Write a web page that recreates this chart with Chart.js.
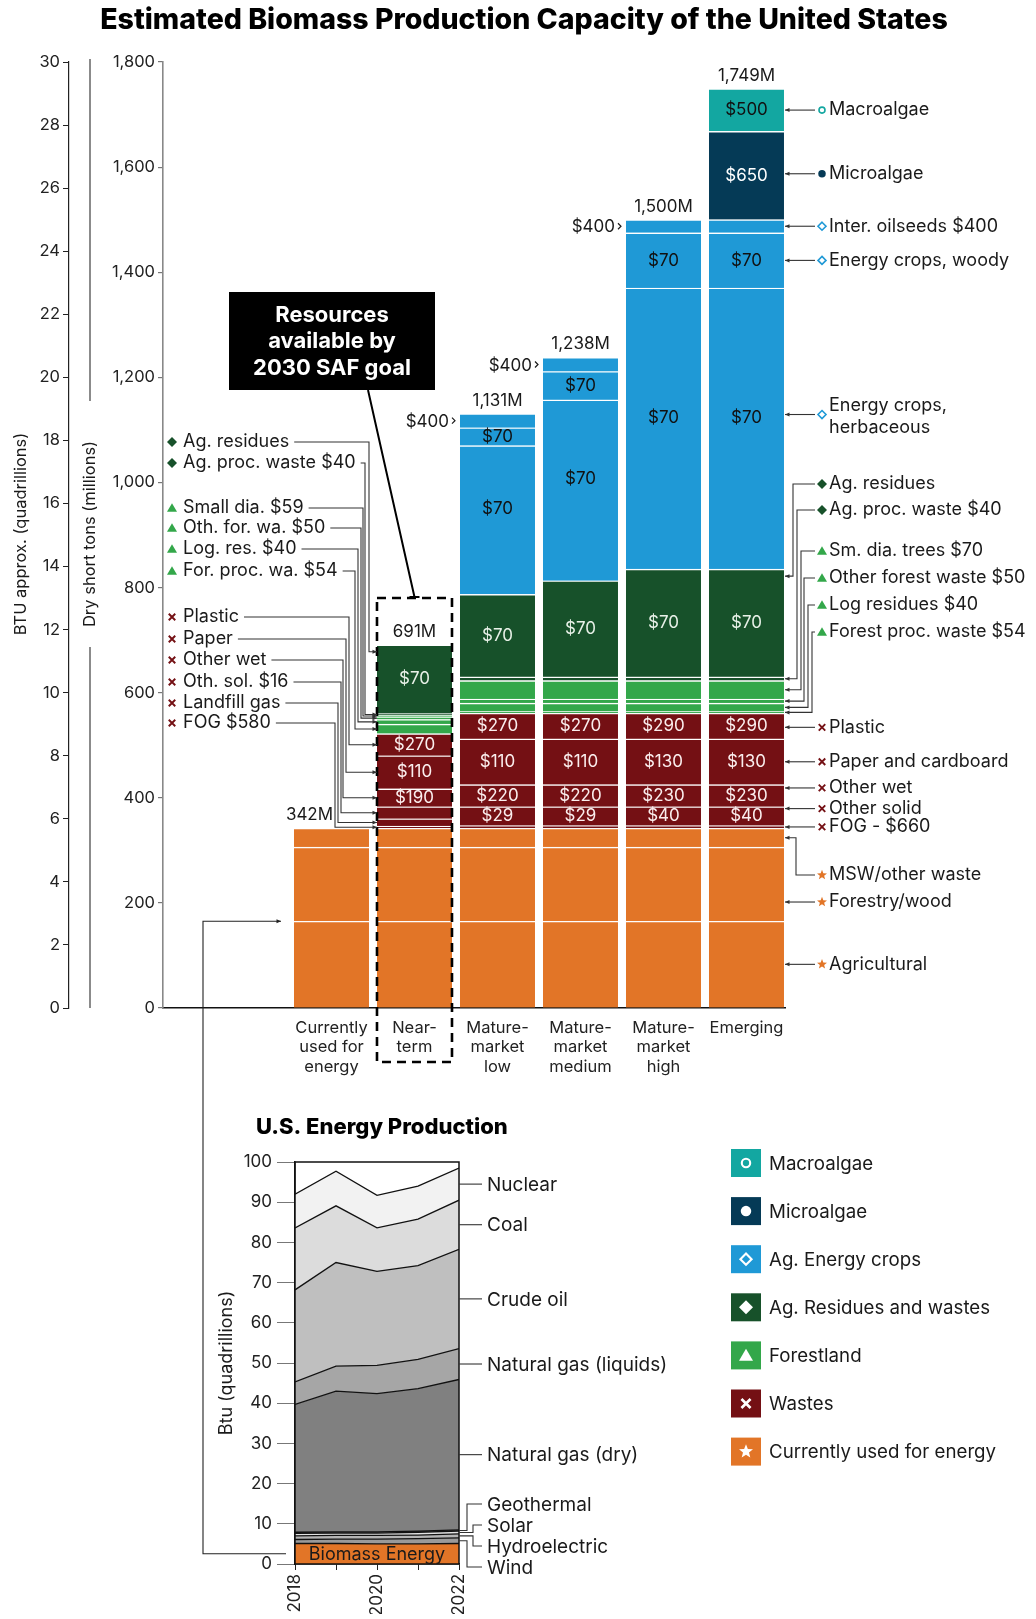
<!DOCTYPE html>
<html><head><meta charset="utf-8">
<script src="https://cdn.jsdelivr.net/npm/chart.js@4.4.1/dist/chart.umd.min.js"></script>
<style>
html,body{margin:0;padding:0;background:#fff;}
#wrap{position:relative;width:1036px;height:1619px;overflow:hidden;}
#wrap canvas{position:absolute;left:0;top:0;}
</style></head>
<body><div id="wrap"><canvas id="main" width="1036" height="1619"></canvas><canvas id="energy" width="1036" height="1619"></canvas></div>
<script>
// ---------------- DATA (main chart, dry short tons, millions) ----------------
const categories = [['Currently','used for','energy'], ['Near-','term'], ['Mature-','market','low'], ['Mature-','market','medium'], ['Mature-','market','high'], ['Emerging']];
const totalLabels = ['342M', '691M', '1,131M', '1,238M', '1,500M', '1,749M'];
const oilseedSideLabels = ['', '', '$400', '$400', '$400', ''];

const agricultural     = [165, 165, 165, 165, 165, 165];
const forestryWood     = [141, 141, 141, 141, 141, 141];
const mswOtherWaste    = [36, 36, 36, 36, 36, 36];
const fog              = [0, 4, 5, 5, 5, 5];
const landfillGas      = [0, 14, 0, 0, 0, 0];
const otherSolid       = [0, 23, 36, 36, 36, 36];
const otherWet         = [0, 34, 42, 42, 42, 42];
const paperCardboard   = [0, 63, 87, 87, 87, 87];
const plastic          = [0, 42, 49, 49, 49, 49];
const forestProcWaste  = [0, 18, 3, 3, 3, 3];
const logResidues      = [0, 9, 16, 16, 16, 16];
const otherForestWaste = [0, 5, 8, 8, 8, 8];
const smallDiaTrees    = [0, 3, 35, 35, 35, 35];
const agProcWaste      = [0, 3, 7, 7, 7, 7];
const agResidues       = [0, 131, 157, 183, 205, 205];
const herbaceous       = [0, 0, 283, 344, 535, 535];
const woody            = [0, 0, 34, 54, 105, 105];
const oilseeds         = [0, 0, 27, 27, 25, 25];
const microalgae       = [0, 0, 0, 0, 0, 168];
const macroalgae       = [0, 0, 0, 0, 0, 81];

// price labels shown inside segments
const pricePlastic    = ['', '$270', '$270', '$270', '$290', '$290'];
const pricePaper      = ['', '$110', '$110', '$110', '$130', '$130'];
const priceOtherWet   = ['', '$190', '$220', '$220', '$230', '$230'];
const priceOtherSolid = ['', '', '$29', '$29', '$40', '$40'];
const priceAgResidues = ['', '$70', '$70', '$70', '$70', '$70'];
const priceHerbaceous = ['', '', '$70', '$70', '$70', '$70'];
const priceWoody      = ['', '', '$70', '$70', '$70', '$70'];
const priceMicroalgae = ['', '', '', '', '', '$650'];
const priceMacroalgae = ['', '', '', '', '', '$500'];

// ---------------- DATA (U.S. energy production, quadrillion Btu) ----------------
const years       = [2018, 2019, 2020, 2021, 2022];
const biomass     = [5.1, 5.1, 5.0, 5.0, 5.1];
const wind        = [1.0, 1.1, 1.2, 1.3, 1.4];
const hydro       = [0.9, 0.9, 0.9, 0.9, 1.0];
const solar       = [0.6, 0.6, 0.6, 0.7, 0.7];
const geothermal  = [0.3, 0.3, 0.3, 0.3, 0.3];
const gasDry      = [31.8, 35.0, 34.4, 35.4, 37.4];
const gasLiquids  = [5.6, 6.2, 7.0, 7.3, 7.7];
const crudeOil    = [22.9, 25.8, 23.4, 23.3, 24.7];
const coal        = [15.4, 14.1, 10.8, 11.6, 12.2];
const nuclear     = [8.4, 8.6, 8.1, 8.2, 8.0];

// ---------------- STYLE ----------------
const FONT = 'Inter, "Open Sans", sans-serif';
const ORANGE = '#E27527', RED = '#741014', GREEN = '#33A74A', DKGREEN = '#17512A',
      BLUE = '#1F99D6', NAVY = '#053A56', TEAL = '#13A7A1', INK = '#1a1a1a', LINE = '#333';
Chart.defaults.font.family = FONT;
Chart.defaults.color = INK;

const seriesDefs = [
  {name: 'Agricultural', data: agricultural, color: ORANGE, mk: 'star'},
  {name: 'Forestry/wood', data: forestryWood, color: ORANGE, mk: 'star'},
  {name: 'MSW/other waste', data: mswOtherWaste, color: ORANGE, mk: 'star'},
  {name: 'FOG', data: fog, color: RED, mk: 'cross'},
  {name: 'Landfill gas', data: landfillGas, color: RED, mk: 'cross'},
  {name: 'Other solid', data: otherSolid, color: RED, mk: 'cross', price: priceOtherSolid, pc: '#fbeeee'},
  {name: 'Other wet', data: otherWet, color: RED, mk: 'cross', price: priceOtherWet, pc: '#fbeeee'},
  {name: 'Paper and cardboard', data: paperCardboard, color: RED, mk: 'cross', price: pricePaper, pc: '#fbeeee'},
  {name: 'Plastic', data: plastic, color: RED, mk: 'cross', price: pricePlastic, pc: '#fbeeee'},
  {name: 'Forest proc. waste', data: forestProcWaste, color: GREEN, mk: 'triangle'},
  {name: 'Log residues', data: logResidues, color: GREEN, mk: 'triangle'},
  {name: 'Other forest waste', data: otherForestWaste, color: GREEN, mk: 'triangle'},
  {name: 'Sm. dia. trees', data: smallDiaTrees, color: GREEN, mk: 'triangle'},
  {name: 'Ag. proc. waste', data: agProcWaste, color: DKGREEN, mk: 'diamond'},
  {name: 'Ag. residues', data: agResidues, color: DKGREEN, mk: 'diamond', price: priceAgResidues, pc: '#e8f1e8'},
  {name: 'Energy crops, herbaceous', data: herbaceous, color: BLUE, mk: 'diamondHollow', price: priceHerbaceous, pc: '#111', dy: -11},
  {name: 'Energy crops, woody', data: woody, color: BLUE, mk: 'diamondHollow', price: priceWoody, pc: '#111'},
  {name: 'Inter. oilseeds', data: oilseeds, color: BLUE, mk: 'diamondHollow'},
  {name: 'Microalgae', data: microalgae, color: NAVY, mk: 'circle', price: priceMicroalgae, pc: '#fff'},
  {name: 'Macroalgae', data: macroalgae, color: TEAL, mk: 'circleHollow', price: priceMacroalgae, pc: '#111'},
];
const IDX = {};
seriesDefs.forEach((s, i) => IDX[s.name] = i);

// ---------------- drawing helpers ----------------
function marker(ctx, type, x, y, color, s) {
  ctx.save();
  ctx.fillStyle = color; ctx.strokeStyle = color; ctx.lineJoin = 'miter';
  ctx.beginPath();
  if (type === 'diamond') {
    ctx.moveTo(x, y - s); ctx.lineTo(x + s, y); ctx.lineTo(x, y + s); ctx.lineTo(x - s, y); ctx.closePath(); ctx.fill();
  } else if (type === 'diamondHollow') {
    const r = s * 0.8; ctx.lineWidth = Math.max(1.6, s * 0.3);
    ctx.moveTo(x, y - r); ctx.lineTo(x + r, y); ctx.lineTo(x, y + r); ctx.lineTo(x - r, y); ctx.closePath(); ctx.stroke();
  } else if (type === 'triangle') {
    ctx.moveTo(x, y - s * 0.95); ctx.lineTo(x + s, y + s * 0.75); ctx.lineTo(x - s, y + s * 0.75); ctx.closePath(); ctx.fill();
  } else if (type === 'cross') {
    const r = s * 0.65; ctx.lineWidth = Math.max(1.8, s * 0.38); ctx.lineCap = 'butt';
    ctx.moveTo(x - r, y - r); ctx.lineTo(x + r, y + r); ctx.moveTo(x + r, y - r); ctx.lineTo(x - r, y + r); ctx.stroke();
  } else if (type === 'star') {
    for (let k = 0; k < 10; k++) {
      const r = k % 2 ? s * 0.45 : s * 1.05;
      const a = -Math.PI / 2 + k * Math.PI / 5;
      ctx.lineTo(x + r * Math.cos(a), y + r * Math.sin(a));
    }
    ctx.closePath(); ctx.fill();
  } else if (type === 'circle') {
    ctx.arc(x, y, s * 0.75, 0, Math.PI * 2); ctx.fill();
  } else if (type === 'circleHollow') {
    ctx.lineWidth = Math.max(1.6, s * 0.3); ctx.arc(x, y, s * 0.6, 0, Math.PI * 2); ctx.stroke();
  }
  ctx.restore();
}
function leader(ctx, pts, color) {
  ctx.save();
  ctx.strokeStyle = color || LINE; ctx.fillStyle = color || LINE; ctx.lineWidth = 1.1;
  ctx.beginPath(); ctx.moveTo(pts[0][0], pts[0][1]);
  for (let i = 1; i < pts.length; i++) ctx.lineTo(pts[i][0], pts[i][1]);
  ctx.stroke();
  const [x1, y1] = pts[pts.length - 2], [x2, y2] = pts[pts.length - 1];
  const a = Math.atan2(y2 - y1, x2 - x1), L = 4.5, W = 2;
  ctx.beginPath(); ctx.moveTo(x2, y2);
  ctx.lineTo(x2 - L * Math.cos(a) + W * Math.sin(a), y2 - L * Math.sin(a) - W * Math.cos(a));
  ctx.lineTo(x2 - L * Math.cos(a) - W * Math.sin(a), y2 - L * Math.sin(a) + W * Math.cos(a));
  ctx.closePath(); ctx.fill();
  ctx.restore();
}
function segY(chart, ds, j, frac) {
  const el = chart.getDatasetMeta(ds).data[j];
  return el.base + (el.y - el.base) * frac;
}

// annotation layouts (positions of text only; targets come from the data)
const leftNotes = [
  {text: 'Ag. residues', ds: 'Ag. residues', frac: 0.9, ty: 442, vx: 369},
  {text: 'Ag. proc. waste $40', ds: 'Ag. proc. waste', frac: 0.5, ty: 463, vx: 365},
  {text: 'Small dia. $59', ds: 'Sm. dia. trees', frac: 0.5, ty: 508, vx: 363},
  {text: 'Oth. for. wa. $50', ds: 'Other forest waste', frac: 0.5, ty: 528, vx: 361},
  {text: 'Log. res. $40', ds: 'Log residues', frac: 0.5, ty: 549, vx: 358},
  {text: 'For. proc. wa. $54', ds: 'Forest proc. waste', frac: 0.5, ty: 571, vx: 355},
  {text: 'Plastic', ds: 'Plastic', frac: 0.5, ty: 617, vx: 349},
  {text: 'Paper', ds: 'Paper and cardboard', frac: 0.5, ty: 639, vx: 346},
  {text: 'Other wet', ds: 'Other wet', frac: 0.5, ty: 660, vx: 343},
  {text: 'Oth. sol. $16', ds: 'Other solid', frac: 0.5, ty: 682, vx: 341},
  {text: 'Landfill gas', ds: 'Landfill gas', frac: 0.5, ty: 703, vx: 338},
  {text: 'FOG $580', ds: 'FOG', frac: 0.5, ty: 723, vx: 335},
];
const rightNotes = [
  {text: ['Macroalgae'], ds: 'Macroalgae', frac: 0.5},
  {text: ['Microalgae'], ds: 'Microalgae', frac: 0.52},
  {text: ['Inter. oilseeds $400'], ds: 'Inter. oilseeds', frac: 0.5},
  {text: ['Energy crops, woody'], ds: 'Energy crops, woody', frac: 0.5},
  {text: ['Energy crops,', 'herbaceous'], ds: 'Energy crops, herbaceous', frac: 0.55},
  {text: ['Ag. residues'], ds: 'Ag. residues', frac: 0.935, ty: 484, vx: 793},
  {text: ['Ag. proc. waste $40'], ds: 'Ag. proc. waste', frac: 0.5, ty: 510, vx: 797},
  {text: ['Sm. dia. trees $70'], ds: 'Sm. dia. trees', frac: 0.5, ty: 551, vx: 801},
  {text: ['Other forest waste $50'], ds: 'Other forest waste', frac: 0.5, ty: 578, vx: 804},
  {text: ['Log residues $40'], ds: 'Log residues', frac: 0.5, ty: 605, vx: 808},
  {text: ['Forest proc. waste $54'], ds: 'Forest proc. waste', frac: 0.5, ty: 632, vx: 812},
  {text: ['Plastic'], ds: 'Plastic', frac: 0.45},
  {text: ['Paper and cardboard'], ds: 'Paper and cardboard', frac: 0.5},
  {text: ['Other wet'], ds: 'Other wet', frac: 0.85},
  {text: ['Other solid'], ds: 'Other solid', frac: 0.9},
  {text: ['FOG - $660'], ds: 'FOG', frac: 0.5},
  {text: ['MSW/other waste'], ds: 'MSW/other waste', frac: 0.5, ty: 875, vx: 796},
  {text: ['Forestry/wood'], ds: 'Forestry/wood', frac: 0.26},
  {text: ['Agricultural'], ds: 'Agricultural', frac: 0.5},
];
const legendItems = [
  ['Macroalgae', TEAL, 'circleHollow'], ['Microalgae', NAVY, 'circle'], ['Ag. Energy crops', BLUE, 'diamondHollow'],
  ['Ag. Residues and wastes', DKGREEN, 'diamond'], ['Forestland', GREEN, 'triangle'], ['Wastes', RED, 'cross'],
  ['Currently used for energy', ORANGE, 'star'],
];

const mainDecor = {
  id: 'mainDecor',
  afterDraw(chart) {
    const ctx = chart.ctx, ys = chart.scales.y, ca = chart.chartArea;
    const last = categories.length - 1;
    ctx.save();
    // title
    ctx.fillStyle = '#000'; ctx.textAlign = 'center'; ctx.textBaseline = 'middle';
    ctx.font = '800 28.5px ' + FONT;
    ctx.fillText('Estimated Biomass Production Capacity of the United States', 524, 20);

    // axis titles
    ctx.font = '16.5px ' + FONT; ctx.fillStyle = INK;
    ctx.save(); ctx.translate(21, 534); ctx.rotate(-Math.PI / 2); ctx.fillText('BTU approx. (quadrillions)', 0, 0); ctx.restore();
    ctx.save(); ctx.translate(90, 534); ctx.rotate(-Math.PI / 2); ctx.fillText('Dry short tons (millions)', 0, 0); ctx.restore();
    ctx.strokeStyle = '#666'; ctx.lineWidth = 1.5;
    ctx.beginPath(); ctx.moveTo(90, ca.top - 3); ctx.lineTo(90, 401); ctx.moveTo(90, 647); ctx.lineTo(90, ca.bottom); ctx.stroke();

    // price labels in segments
    ctx.font = '17px ' + FONT; ctx.textAlign = 'center'; ctx.textBaseline = 'middle';
    seriesDefs.forEach((s, i) => {
      if (!s.price) return;
      const meta = chart.getDatasetMeta(i);
      s.price.forEach((p, j) => {
        if (!p) return;
        const el = meta.data[j];
        ctx.fillStyle = s.pc;
        ctx.fillText(p, el.x, (el.y + el.base) / 2 + (s.dy || 0));
      });
    });

    // totals above bars
    ctx.font = '17px ' + FONT; ctx.fillStyle = INK;
    totalLabels.forEach((t, j) => {
      const total = seriesDefs.reduce((a, s) => a + s.data[j], 0);
      const x = chart.getDatasetMeta(0).data[j].x + (j === 0 ? -22 : 0);
      ctx.fillText(t, x, ys.getPixelForValue(total) - 13);
    });

    // $400 side labels
    ctx.textAlign = 'right';
    oilseedSideLabels.forEach((t, j) => {
      if (!t) return;
      const el = chart.getDatasetMeta(IDX['Inter. oilseeds']).data[j];
      const left = el.x - el.width / 2;
      const y = (el.y + el.base) / 2 + 1;
      ctx.fillStyle = INK;
      ctx.fillText(t, left - 11, y);
      ctx.strokeStyle = INK; ctx.lineWidth = 1.2;
      ctx.beginPath(); ctx.moveTo(left - 8, y - 4); ctx.lineTo(left - 5, y - 1); ctx.lineTo(left - 8, y + 2); ctx.stroke();
    });

    // near-term box + callout
    const nt = chart.getDatasetMeta(0).data[1];
    const ntL = nt.x - nt.width / 2, ntR = nt.x + nt.width / 2;
    ctx.save();
    ctx.strokeStyle = '#000'; ctx.lineWidth = 2.6; ctx.setLineDash([9, 6]);
    ctx.strokeRect(ntL, 598, ntR - ntL, 1062 - 598);
    ctx.restore();
    ctx.fillStyle = '#000'; ctx.fillRect(229, 292, 206, 98);
    ctx.strokeStyle = '#000'; ctx.lineWidth = 2;
    ctx.beginPath(); ctx.moveTo(368, 390); ctx.lineTo(nt.x, 597); ctx.moveTo(nt.x - 5, 597); ctx.lineTo(nt.x + 5, 597); ctx.stroke();
    ctx.fillStyle = '#fff'; ctx.font = '700 22px ' + FONT; ctx.textAlign = 'center';
    ['Resources', 'available by', '2030 SAF goal'].forEach((t, k) => ctx.fillText(t, 332, 315 + k * 26.5));

    // left notes (near-term bar)
    ctx.font = '18px ' + FONT; ctx.textAlign = 'left'; ctx.textBaseline = 'middle';
    leftNotes.forEach(n => {
      const s = seriesDefs[IDX[n.ds]];
      marker(ctx, s.mk, 172, n.ty, s.color, 5);
      ctx.fillStyle = INK; ctx.fillText(n.text, 183, n.ty);
      const w = ctx.measureText(n.text).width;
      const ty2 = segY(chart, IDX[n.ds], 1, n.frac);
      leader(ctx, [[183 + w + 5, n.ty], [n.vx, n.ty], [n.vx, ty2], [ntL, ty2]]);
    });

    // right notes (emerging bar)
    const em = chart.getDatasetMeta(0).data[last];
    const emR = em.x + em.width / 2;
    rightNotes.forEach(n => {
      const s = seriesDefs[IDX[n.ds]];
      const tgt = segY(chart, IDX[n.ds], last, n.frac);
      const ty = n.ty != null ? n.ty : tgt;
      marker(ctx, s.mk, 822, ty, s.color, 5);
      ctx.fillStyle = INK;
      if (n.text.length === 1) ctx.fillText(n.text[0], 829, ty);
      else { ctx.fillText(n.text[0], 829, ty - 9); ctx.fillText(n.text[1], 829, ty + 13); }
      if (n.vx) leader(ctx, [[815, ty], [n.vx, ty], [n.vx, tgt], [emR + 1, tgt]]);
      else leader(ctx, [[815, ty], [emR + 1, ty]]);
    });

    // legend
    ctx.font = '18.7px ' + FONT;
    legendItems.forEach((it, k) => {
      const cy = 1163 + k * 48.1;
      ctx.fillStyle = it[1]; ctx.fillRect(731, cy - 14, 30, 28);
      marker(ctx, it[2], 746, cy, '#fff', 7);
      ctx.fillStyle = INK; ctx.fillText(it[0], 769, cy + 1);
    });
    ctx.restore();
  }
};

const mainChart = new Chart(document.getElementById('main'), {
  type: 'bar',
  data: {
    labels: categories.map((_, i) => i),
    datasets: seriesDefs.map(s => ({
      label: s.name, data: s.data.map(v => (v === 0 ? null : v)), backgroundColor: s.color,
      borderColor: 'rgba(255,255,255,0.9)', borderWidth: {top: 1.4, left: 0, right: 0, bottom: 0},
      barThickness: 75,
    })),
  },
  options: {
    responsive: false, animation: false, events: [],
    layout: {padding: {left: 8, top: 62, right: 251, bottom: 541}},
    plugins: {legend: {display: false}, tooltip: {enabled: false}, title: {display: false}},
    scales: {
      x: {
        type: 'linear', min: -2.03, max: 5.464, stacked: true, offset: false,
        grid: {display: false, drawTicks: false, offset: false},
        border: {color: '#111', width: 1.6},
        afterBuildTicks: s => { s.ticks = categories.map((_, i) => ({value: i})); },
        afterFit: s => { s.height = 70; },
        ticks: {
          autoSkip: false, maxRotation: 0, padding: 10, color: '#222',
          font: {size: 16.5, lineHeight: 1.18},
          callback: v => categories[v] || '',
        },
      },
      y: {
        position: 'left', weight: 0, min: 0, max: 1800, stacked: true,
        grid: {drawOnChartArea: false, tickLength: 5, color: '#777', lineWidth: 1.2},
        border: {color: '#888', width: 1.6},
        ticks: {stepSize: 200, padding: 3, color: '#222', font: {size: 16.5}},
        afterFit: s => { s.width = 94; },
      },
      btu: {
        type: 'linear', position: 'left', weight: 1, min: 0, max: 30,
        grid: {drawOnChartArea: false, tickLength: 6, color: '#222'},
        border: {color: '#222', width: 1.2},
        ticks: {stepSize: 2, padding: 3, color: '#222', font: {size: 16.5}},
        afterFit: s => { s.width = 61; },
      },
    },
  },
  plugins: [mainDecor],
});

// ---------------- energy production area chart ----------------
const energyDefs = [
  {name: 'Biomass Energy', data: biomass, color: ORANGE},
  {name: 'Wind', data: wind, color: '#9a9a9a'},
  {name: 'Hydroelectric', data: hydro, color: '#b5b5b5'},
  {name: 'Solar', data: solar, color: '#e2e2e2'},
  {name: 'Geothermal', data: geothermal, color: '#555'},
  {name: 'Natural gas (dry)', data: gasDry, color: '#808080'},
  {name: 'Natural gas (liquids)', data: gasLiquids, color: '#a6a6a6'},
  {name: 'Crude oil', data: crudeOil, color: '#bfbfbf'},
  {name: 'Coal', data: coal, color: '#dcdcdc'},
  {name: 'Nuclear', data: nuclear, color: '#f2f2f2'},
];
const energySmallNotes = [
  {name: 'Geothermal', ty: 1504, vx: 467},
  {name: 'Solar', ty: 1525, vx: 473},
  {name: 'Hydroelectric', ty: 1546, vx: 473},
  {name: 'Wind', ty: 1567, vx: 467},
];
const energyDecor = {
  id: 'energyDecor',
  afterDraw(chart) {
    const ctx = chart.ctx, ca = chart.chartArea, ys = chart.scales.y;
    const n = years.length - 1;
    ctx.save();
    // plot frame
    ctx.strokeStyle = '#111'; ctx.lineWidth = 1.5;
    ctx.strokeRect(ca.left, ca.top, ca.right - ca.left, ca.bottom - ca.top);
    // title & axis title
    ctx.fillStyle = '#000'; ctx.textAlign = 'left'; ctx.textBaseline = 'middle';
    ctx.font = '800 22px ' + FONT;
    ctx.fillText('U.S. Energy Production', 256, 1127);
    ctx.font = '18px ' + FONT; ctx.fillStyle = INK; ctx.textAlign = 'center';
    ctx.save(); ctx.translate(227, 1363); ctx.rotate(-Math.PI / 2); ctx.fillText('Btu (quadrillions)', 0, 0); ctx.restore();
    // series labels
    const bottomOf = (i, j) => i === 0 ? ys.getPixelForValue(0) : chart.getDatasetMeta(i - 1).data[j].y;
    const midOf = (i, j) => (chart.getDatasetMeta(i).data[j].y + bottomOf(i, j)) / 2;
    ctx.textAlign = 'left'; ctx.font = '19px ' + FONT;
    energyDefs.forEach((s, i) => {
      if (i < 5) return;
      const y = midOf(i, n);
      ctx.strokeStyle = LINE; ctx.lineWidth = 1.1;
      ctx.beginPath(); ctx.moveTo(ca.right, y); ctx.lineTo(ca.right + 23, y); ctx.stroke();
      ctx.fillStyle = INK; ctx.fillText(s.name, ca.right + 28, y + 1);
    });
    energySmallNotes.forEach(nt => {
      const i = energyDefs.findIndex(s => s.name === nt.name);
      const y = midOf(i, n);
      ctx.strokeStyle = LINE; ctx.lineWidth = 1.1;
      ctx.beginPath(); ctx.moveTo(ca.right, y); ctx.lineTo(nt.vx, y); ctx.lineTo(nt.vx, nt.ty); ctx.lineTo(ca.right + 23, nt.ty); ctx.stroke();
      ctx.fillStyle = INK; ctx.fillText(nt.name, ca.right + 28, nt.ty + 1);
    });
    // biomass label
    ctx.textAlign = 'center'; ctx.fillStyle = '#1a1a1a'; ctx.font = '18px ' + FONT;
    const by = midOf(0, 2);
    ctx.fillText('Biomass Energy', (ca.left + ca.right) / 2, by + 1);
    // arrow from biomass to the currently-used bar
    const bar = mainChart.getDatasetMeta(0).data[0];
    const yT = bar.y; // top of agricultural segment
    const yB = ys.getPixelForValue(biomass[0] / 2);
    leader(ctx, [[ca.left - 9, yB], [203, yB], [203, yT], [bar.x - bar.width / 2 - 13, yT]], '#222');
    ctx.restore();
  }
};

new Chart(document.getElementById('energy'), {
  type: 'line',
  data: {
    labels: years,
    datasets: energyDefs.map((s, i) => ({
      label: s.name, data: s.data, backgroundColor: s.color, borderColor: '#111', borderWidth: 1.3,
      fill: i === 0 ? 'origin' : '-1', pointRadius: 0, tension: 0,
    })),
  },
  options: {
    responsive: false, animation: false, events: [],
    layout: {padding: {left: 225, top: 1162, right: 577, bottom: 5}},
    plugins: {legend: {display: false}, tooltip: {enabled: false}, filler: {propagate: false}},
    scales: {
      x: {
        type: 'linear', min: 2018, max: 2022,
        grid: {drawOnChartArea: false, tickLength: 6, color: '#222'},
        border: {color: '#111', width: 1.5},
        ticks: {stepSize: 1, autoSkip: false, minRotation: 90, maxRotation: 90, padding: 4, color: '#222', font: {size: 17},
          callback: v => (v % 2 === 0 ? String(v) : '')},
        afterFit: s => { s.height = 50; },
      },
      y: {
        stacked: true, min: 0, max: 100,
        grid: {drawOnChartArea: false, tickLength: 18, color: '#777'},
        border: {color: '#111', width: 1.5},
        ticks: {stepSize: 10, padding: 5, color: '#222', font: {size: 17}},
        afterFit: s => { s.width = 70; },
      },
    },
  },
  plugins: [energyDecor],
});
</script>
</body></html>
